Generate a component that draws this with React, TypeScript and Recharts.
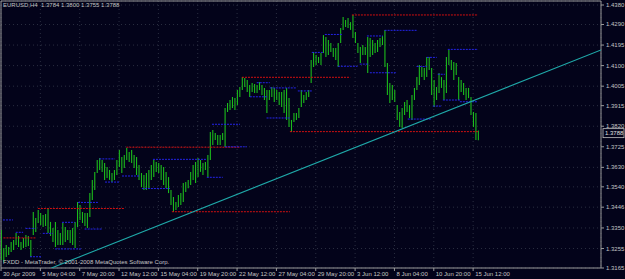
import { ComposedChart, Bar, XAxis, YAxis, CartesianGrid, ReferenceLine, ReferenceArea } from "recharts";

const symbol = "EURUSD,H4";
const lastBar = [1.3784, 1.38, 1.3755, 1.3788];

const highs = [
  1.3341, 1.3257, 1.3271, 1.3262, 1.3285, 1.3294, 1.3327, 1.3313, 1.3285, 1.3304,
  1.3317, 1.3313, 1.3294, 1.3424, 1.3396, 1.3433, 1.3419, 1.341, 1.3414, 1.3442,
  1.3378, 1.335, 1.3378, 1.3341, 1.3327, 1.3373, 1.3354, 1.3341, 1.3341, 1.335,
  1.3378, 1.347, 1.3456, 1.3424, 1.3419, 1.3419, 1.3511, 1.3572, 1.3609, 1.3664,
  1.3673, 1.3664, 1.365, 1.3632, 1.3618, 1.3604, 1.3618, 1.3664, 1.371, 1.3678,
  1.3687, 1.3719, 1.3701, 1.371, 1.3687, 1.3678, 1.3641, 1.3604, 1.3595, 1.3604,
  1.3618, 1.3641, 1.3664, 1.3655, 1.365, 1.3641, 1.3632, 1.3609, 1.3585, 1.3525,
  1.3493, 1.347, 1.3502, 1.3511, 1.3558, 1.3562, 1.3572, 1.3609, 1.3641, 1.3655,
  1.3673, 1.3664, 1.365, 1.3655, 1.3687, 1.3793, 1.3803, 1.3789, 1.3779, 1.3779,
  1.3789, 1.3904, 1.3927, 1.3941, 1.3955, 1.395, 1.3987, 1.4001, 1.4047, 1.4043,
  1.4034, 1.401, 1.402, 1.4015, 1.401, 1.4024, 1.401, 1.3997, 1.3987, 1.3987,
  1.4001, 1.3997, 1.3987, 1.3978, 1.3978, 1.3987, 1.3997, 1.395, 1.3849, 1.3881,
  1.3881, 1.3904, 1.3987, 1.3964, 1.3978, 1.3987, 1.4126, 1.4163, 1.4149, 1.414,
  1.4158, 1.4241, 1.4232, 1.4218, 1.4204, 1.4181, 1.4181, 1.4204, 1.4274, 1.4325,
  1.4311, 1.432, 1.4301, 1.4334, 1.4255, 1.4204, 1.4186, 1.4195, 1.4186, 1.4232,
  1.4228, 1.4218, 1.4204, 1.4218, 1.4228, 1.4237, 1.4265, 1.4112, 1.402, 1.401,
  1.3987, 1.3918, 1.3886, 1.3904, 1.3932, 1.3941, 1.3918, 1.3964, 1.3997, 1.4047,
  1.4103, 1.4094, 1.4089, 1.414, 1.414, 1.4089, 1.4034, 1.4001, 1.4066, 1.4047,
  1.4034, 1.414, 1.4172, 1.4126, 1.4117, 1.4112, 1.4047, 1.4034, 1.402, 1.3997,
  1.3997, 1.3955, 1.3886, 1.3881, 1.38,
];

const lows = [
  1.3202, 1.3192, 1.3216, 1.3225, 1.3239, 1.3248, 1.3271, 1.3262, 1.3248, 1.3257,
  1.3262, 1.3267, 1.3216, 1.3317, 1.3331, 1.3373, 1.3364, 1.3354, 1.3359, 1.3327,
  1.3313, 1.3285, 1.3262, 1.3271, 1.3271, 1.3271, 1.3285, 1.3294, 1.328, 1.3271,
  1.3257, 1.3354, 1.3387, 1.3373, 1.3359, 1.335, 1.3401, 1.3479, 1.3525, 1.3604,
  1.3618, 1.3609, 1.3572, 1.3581, 1.3572, 1.3562, 1.3572, 1.3595, 1.3632, 1.3604,
  1.3627, 1.3664, 1.3655, 1.365, 1.3627, 1.3595, 1.3572, 1.3539, 1.3525, 1.3525,
  1.3534, 1.3572, 1.3585, 1.3609, 1.3604, 1.3572, 1.3548, 1.3534, 1.3511, 1.3456,
  1.3424, 1.3433, 1.3447, 1.3456, 1.347, 1.3516, 1.3534, 1.3548, 1.3572, 1.3558,
  1.3585, 1.3609, 1.3595, 1.3618, 1.3585, 1.3664, 1.3733, 1.3756, 1.3733, 1.3733,
  1.3756, 1.3724, 1.3886, 1.3895, 1.3904, 1.3895, 1.3918, 1.3955, 1.3987, 1.4001,
  1.3978, 1.3955, 1.3978, 1.3973, 1.3973, 1.3987, 1.3964, 1.3941, 1.3881, 1.3941,
  1.3955, 1.3932, 1.3941, 1.3918, 1.3909, 1.3881, 1.3849, 1.3816, 1.3793, 1.3839,
  1.3849, 1.3858, 1.3909, 1.3927, 1.3941, 1.3955, 1.402, 1.4094, 1.4103, 1.4112,
  1.4103, 1.4158, 1.414, 1.4149, 1.4163, 1.414, 1.4126, 1.4094, 1.4204, 1.4265,
  1.4278, 1.4274, 1.4265, 1.4228, 1.4204, 1.4158, 1.4112, 1.4149, 1.4149, 1.4066,
  1.414, 1.4149, 1.4158, 1.4163, 1.4186, 1.4195, 1.4094, 1.3964, 1.3927, 1.3941,
  1.3932, 1.3849, 1.3816, 1.3812, 1.3872, 1.3886, 1.3858, 1.3849, 1.3941, 1.3987,
  1.401, 1.4047, 1.4034, 1.4047, 1.408, 1.3964, 1.3909, 1.3941, 1.3973, 1.3997,
  1.3941, 1.3973, 1.4103, 1.408, 1.4034, 1.4057, 1.3941, 1.3978, 1.3964, 1.3941,
  1.395, 1.3872, 1.3816, 1.3756, 1.3755,
];

const timeLabels = [
  "30 Apr 2009", "5 May 04:00", "7 May 20:00", "12 May 12:00", "15 May 04:00",
  "19 May 20:00", "22 May 12:00", "27 May 04:00", "29 May 20:00", "3 Jun 12:00",
  "8 Jun 04:00", "10 Jun 20:00", "15 Jun 12:00",
];
const timeTicks = timeLabels.map((_, i) => i * 16);

const priceTicks = [
  1.438, 1.429, 1.4195, 1.41, 1.4005, 1.3915, 1.382, 1.3725, 1.363, 1.354, 1.3446, 1.335, 1.3255, 1.3165,
];

// [from bar, to bar, price]
const redLevels = [
  [1, 14, 1.3304], [15, 50, 1.344], [51, 97, 1.3723], [69.5, 117.5, 1.3425],
  [98, 142, 1.4046], [142.7, 194, 1.4334], [117.5, 194, 1.3795],
];
const blueLevels = [
  [0.8, 4.9, 1.3387], [6, 9, 1.333], [10, 14, 1.3348], [11.8, 16.7, 1.3217],
  [17, 21, 1.3325], [24.8, 30, 1.3376], [22, 33, 1.3253], [31.3, 39.4, 1.3468],
  [34, 41, 1.3345], [40, 46.3, 1.3669], [42.3, 48.4, 1.3562], [49.2, 56.5, 1.359],
  [57.3, 68.7, 1.3532], [61.8, 83.7, 1.3667], [83.7, 90.2, 1.3584], [85.8, 97.2, 1.3829],
  [91, 100, 1.3725], [101.2, 108.5, 1.3956], [104, 109.3, 1.4021], [109.3, 120.3, 1.3997],
  [108, 117.5, 1.3858], [120.7, 126.4, 1.3983], [126.4, 130.9, 1.4161], [131.7, 139, 1.4244],
  [137, 145, 1.4097], [145.9, 149.2, 1.4107], [148.8, 155.3, 1.4237], [150, 161, 1.4067],
  [156, 169, 1.4263], [165.4, 175.2, 1.3853], [169, 173.2, 1.4096], [173.2, 177.2, 1.4138],
  [181.7, 194, 1.4175], [177.6, 180.5, 1.406], [175.6, 179.3, 1.3913], [179.7, 186.6, 1.3941],
  [186.6, 193.5, 1.3933],
];
const trendLine = [[20.5, 1.3165], [244, 1.4172]];

const xMax = 244;
const yMin = 1.3165;
const yMax = 1.43985;

const bg = "#03031a";
const txt = "#c4c4c4";
const font = "Liberation Sans, Arial, sans-serif";

const bars = highs.map((h, i) => ({ t: i, range: [lows[i], h] }));

const TimeTick = ({ x, y, payload }: any) => (
  <text x={x + 2} y={y + 5} fill={txt} fontSize={6} fontFamily={font}>
    {timeLabels[Math.round(payload.value / 16)]}
  </text>
);

const PriceTick = ({ x, y, payload }: any) => (
  <text x={x} y={y + 2} fill={txt} fontSize={6} fontFamily={font}>
    {payload.value.toFixed(4)}
  </text>
);

const PriceTag = ({ viewBox }: any) => {
  const xr = viewBox.x + viewBox.width;
  return (
    <g>
      <rect x={xr + 2} y={viewBox.y - 4.5} width={21} height={9} fill={bg} stroke={txt} strokeWidth={0.8} />
      <text x={xr + 4} y={viewBox.y + 2} fill="#e0e0e0" fontSize={6} fontFamily={font}>
        {lastBar[3].toFixed(4)}
      </text>
    </g>
  );
};

export default function App() {
  return (
    <div style={{ position: "relative", width: 625, height: 279, background: bg }}>
      <style>{`body{margin:0;background:${bg}}`}</style>
      <ComposedChart width={625} height={279} data={bars} margin={{ top: 1, right: 0, bottom: 1, left: 1 }}>
        <CartesianGrid stroke="#2a2e40" strokeDasharray="1 3" />
        <XAxis
          dataKey="t"
          type="number"
          domain={[0, xMax]}
          ticks={timeTicks}
          interval={0}
          height={10}
          tickSize={3}
          tickMargin={0}
          axisLine={false}
          tickLine={{ stroke: "#9a9a9a" }}
          tick={<TimeTick />}
          allowDataOverflow
        />
        <YAxis
          orientation="right"
          type="number"
          domain={[yMin, yMax]}
          ticks={priceTicks}
          interval={0}
          width={24}
          tickSize={3}
          tickMargin={2}
          axisLine={false}
          tickLine={{ stroke: "#9a9a9a" }}
          tick={<PriceTick />}
          allowDataOverflow
        />
        <ReferenceArea x1={0} x2={xMax} y1={yMin} y2={yMax} fill="none" stroke="#9a9a9a" strokeWidth={1} />
        {redLevels.map(([a, b, p], i) => (
          <ReferenceLine key={"r" + i} segment={[{ x: a, y: p }, { x: b, y: p }]} stroke="#d21010" strokeDasharray="2 1" strokeWidth={1} />
        ))}
        {blueLevels.map(([a, b, p], i) => (
          <ReferenceLine key={"b" + i} segment={[{ x: a, y: p }, { x: b, y: p }]} stroke="#2424e8" strokeDasharray="2 1" strokeWidth={1} />
        ))}
        <Bar dataKey="range" fill="#1cbc1c" barSize={1.1} isAnimationActive={false} />
        <ReferenceLine
          segment={[{ x: trendLine[0][0], y: trendLine[0][1] }, { x: trendLine[1][0], y: trendLine[1][1] }]}
          stroke="#1fa8a8"
          strokeWidth={1.1}
          ifOverflow="hidden"
        />
        <ReferenceLine y={lastBar[3]} stroke="none" label={<PriceTag />} />
      </ComposedChart>
      <div style={{ position: "absolute", left: 3, top: 2, color: txt, fontSize: 6, fontFamily: font, whiteSpace: "pre", lineHeight: 1 }}>
        {symbol + "  " + lastBar.map((v) => v.toFixed(4)).join(" ")}
      </div>
      <div style={{ position: "absolute", left: 3, top: 259, color: txt, fontSize: 6, fontFamily: font, whiteSpace: "pre", lineHeight: 1 }}>
        FXDD - MetaTrader, © 2001-2008 MetaQuotes Software Corp.
      </div>
    </div>
  );
}
